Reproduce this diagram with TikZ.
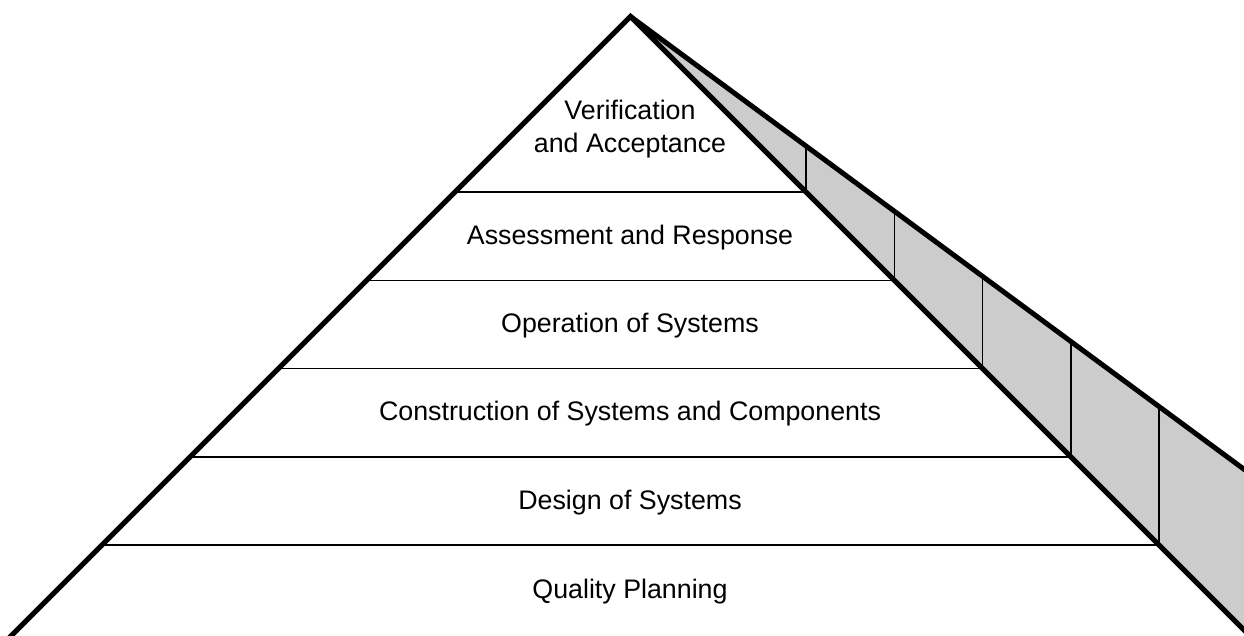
\documentclass[tikz,border=0pt]{standalone}
\usepackage{fontspec}
\setmainfont{Liberation Sans}
\usetikzlibrary{calc}
\begin{document}
\begin{tikzpicture}[x=1pt, y=-1pt,
    ed/.style={line width=5pt, line join=miter},
    rung/.style={line width=1.5pt},
    band/.style={fill=black!20},
    lbl/.style={font=\fontsize{26.8}{33}\selectfont, align=center, inner sep=0pt}
  ]
  \useasboundingbox (0,0) rectangle (1244,635);
  \clip (0,0) rectangle (1244,635);
  \coordinate (apex) at (630.5,16.5);
  \coordinate (bl) at ($(apex)+(-700,700)$);
  \coordinate (br) at ($(apex)+(700,700)$);
  \coordinate (tip) at ($(apex)+(700,516.6)$);
  \fill[band] (apex) -- (tip) -- (br) -- cycle;
  \foreach \y [count=\i] in {192,280.25,368.5,456.75,545} {
    \pgfmathsetmacro\d{\y-16.5}
    \coordinate (l\i) at ({630.5-\d},\y);
    \coordinate (r\i) at ({630.5+\d},\y);
    \coordinate (o\i) at ({630.5+\d},{16.5+0.738*\d});
    \draw[rung] (l\i) -- (r\i) -- (o\i);
  }
  \draw[ed] (bl) -- (apex) -- (br);
  \draw[ed] (apex) -- (tip);
  \node[lbl] (qp) at (630,592) {Quality Planning};
  \node[lbl] (ds) at (630,503) {Design of Systems};
  \node[lbl] (cs) at (630,414) {Construction of Systems and Components};
  \node[lbl] (os) at (630,326) {Operation of Systems};
  \node[lbl] (ar) at (630,238) {Assessment and Response};
  \node[lbl] (va) at (630,129) {Verification\\and Acceptance};
\end{tikzpicture}
\end{document}
